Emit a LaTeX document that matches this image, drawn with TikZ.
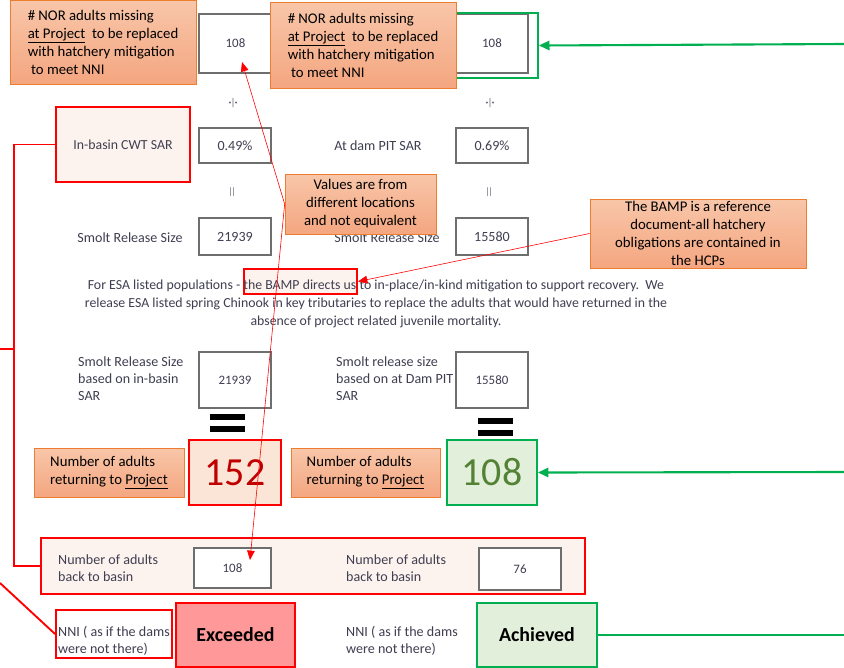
\documentclass[tikz,border=0pt]{standalone}
\usepackage{fontspec}
\setmainfont{Carlito}
\usetikzlibrary{arrows.meta}
\definecolor{orbord}{HTML}{ED7D31}
\definecolor{ortop}{HTML}{F8C6A9}
\definecolor{orbot}{HTML}{F4A680}
\definecolor{xlred}{HTML}{FF0000}
\definecolor{xlgreen}{HTML}{00B050}
\definecolor{palered}{HTML}{FDF3EE}
\definecolor{pinkfill}{HTML}{FBE5D6}
\definecolor{palegreen}{HTML}{E2EFDA}
\definecolor{dkgreen}{HTML}{548235}
\definecolor{dkred}{HTML}{C00000}
\definecolor{salmon}{HTML}{FF9999}
\definecolor{txtgray}{HTML}{3F3F52}
\definecolor{boxgray}{HTML}{6E6E6E}
\newcommand{\pxl}{0.03cm}
\newcommand{\norText}{\# NOR adults missing\\\underline{at Project}\ \ to be replaced\\with hatchery mitigation\\\ to meet NNI}
\begin{document}
\begin{tikzpicture}[x={(0.03cm,0)},y={(0,-0.03cm)},
  sz/.style 2 args={minimum width=#1*\pxl,minimum height=#2*\pxl},
  orbox/.style={draw=orbord,line width=0.6pt,top color=ortop,bottom color=orbot,inner sep=0pt,font=\fontsize{12.6}{15.4}\selectfont},
  valbox/.style={draw=boxgray,line width=1.3pt,fill=white,inner sep=0pt,text=txtgray,font=\fontsize{11}{13}\selectfont},
  redbox/.style={draw=xlred,line width=1.6pt,inner sep=0pt},
  grnbox/.style={draw=xlgreen,line width=1.6pt,inner sep=0pt},
  lbl/.style={text=txtgray,font=\fontsize{12}{14.6}\selectfont,align=left,inner sep=0pt},
  sym/.style={text=txtgray,rotate=90,inner sep=0pt,font=\large},
  callarr/.style={draw=xlred,line width=0.5pt,-{Triangle[length=8pt,width=6.5pt]}},
  grnarr/.style={draw=xlgreen,line width=1.8pt,-{Triangle[length=9pt,width=8pt]}},
  brkt/.style={draw=xlred,line width=1.6pt}]
\useasboundingbox[fill=white] (0,0) rectangle (844,667);
% top row
\node[valbox,sz={73}{59}] (val1) at (235.5,43.5) {108};
\node[valbox,sz={72}{59}] (val2) at (492,43.5) {108};
\node[grnbox,sz={83}{65}] (hit) at (496.5,45.5) {};
\node[orbox,sz={186}{86},align=left] (nor2) at (363,45) {\norText};
\node[orbox,sz={186}{84},align=left] (nor1) at (103,42) {\norText};
\coordinate (gin1) at (844,44);
\draw[grnarr] (gin1) -- (hit.east);
\foreach \kx in {233,490}{\node[sym] (div\kx) at (\kx,103) {$\div$};}
% SAR row
\node[redbox,fill=palered,sz={134}{75},lbl,align=center,font=\fontsize{11.8}{14}\selectfont] (cwt) at (123,144.5) {In-basin CWT SAR};
\node[valbox,sz={72}{35},font=\fontsize{12}{14}\selectfont] (sar1) at (235,145.5) {0.49\%};
\node[lbl] (pit) at (378,146) {At dam PIT SAR};
\node[valbox,sz={72}{35},font=\fontsize{12}{14}\selectfont] (sar2) at (492,145.5) {0.69\%};
\foreach \kx in {233,490}{\node[sym] (eq\kx) at (\kx,192) {$=$};}
% smolt release row
\node[lbl] (sml1) at (130,238) {Smolt Release Size};
\node[valbox,sz={72}{37},font=\fontsize{12}{14}\selectfont] (sm1) at (235,236.5) {21939};
\node[lbl] (sml2) at (387,238) {Smolt Release Size};
\node[valbox,sz={72}{37},font=\fontsize{12}{14}\selectfont] (sm2) at (492,236.5) {15580};
% paragraph
\node[redbox,fill=palered,sz={113}{25}] (bampbox) at (300.5,281.5) {};
\node[text=txtgray,align=center,inner sep=0pt,font=\fontsize{11.8}{15.4}\selectfont] (para) at (376,304) {For ESA listed populations - the BAMP directs us to in-place/in-kind mitigation to support recovery.\ \ We\\release ESA listed spring Chinook in key tributaries to replace the adults that would have returned in the\\absence of project related juvenile mortality.};
\node[orbox,sz={151}{60},align=center] (vals) at (360.5,204) {Values are from\\different locations\\and not equivalent};
\node[orbox,sz={216}{69},align=center] (bamp) at (698,233.5) {The BAMP is a reference\\document-all hatchery\\obligations are contained in\\the HCPs};
\draw[callarr] (bamp.west) -- (bampbox.east);
% release size row
\node[lbl,anchor=west] (szl1) at (78,379) {Smolt Release Size\\based on in-basin\\SAR};
\node[valbox,sz={72}{56}] (sz1) at (235,380) {21939};
\node[lbl,anchor=west] (szl2) at (336,379) {Smolt release size\\based on at Dam PIT\\SAR};
\node[valbox,sz={72}{56}] (sz2) at (492,380) {15580};
\foreach \kx/\ky in {210/414,210/426,478/418,478/430}{\fill (\kx,\ky) rectangle ++(35,6);}
% returning row
\node[orbox,sz={150}{49},align=left] (ret1) at (109,472.5) {Number of adults\\returning to \underline{Project}};
\node[redbox,fill=pinkfill,sz={92}{65},text=dkred,font=\fontsize{34}{34}\selectfont] (n152) at (235,472.5) {152};
\node[orbox,sz={149}{49},align=left] (ret2) at (365.5,472.5) {Number of adults\\returning to \underline{Project}};
\node[grnbox,fill=palegreen,sz={90}{65},text=dkgreen,font=\fontsize{34}{34}\selectfont] (n108) at (492,472.5) {108};
\coordinate (gin2) at (844,472);
\draw[grnarr] (gin2) -- (n108.east);
% back to basin row
\node[redbox,fill=palered,sz={544}{56}] (basin) at (313,566) {};
\node[lbl,anchor=west] (bbl1) at (58,568.5) {Number of adults\\back to basin};
\node[valbox,sz={77}{40}] (b108) at (232.5,568) {108};
\node[lbl,anchor=west] (bbl2) at (346,568.5) {Number of adults\\back to basin};
\node[valbox,sz={82}{42}] (b76) at (520,569) {76};
% NNI row
\node[redbox,sz={116}{48}] (nni1) at (114,634) {};
\node[lbl,anchor=west] (nnil1) at (58,641) {NNI ( as if the dams\\were not there)};
\node[redbox,fill=salmon,sz={119}{64},font=\bfseries\fontsize{17}{19}\selectfont] (exc) at (235.5,635) {Exceeded};
\node[lbl,anchor=west] (nnil2) at (346,641) {NNI ( as if the dams\\were not there)};
\node[grnbox,fill=palegreen,sz={120}{64},font=\bfseries\fontsize{17}{19}\selectfont] (ach) at (537,635) {Achieved};
\coordinate (gout) at (844,635);
\draw[draw=xlgreen,line width=1.8pt] (ach.east) -- (gout);
% left bracket
\draw[brkt] (cwt.west) -- ++(-41,0) |- (basin.west);
\coordinate (lstub) at (0,349);
\draw[brkt] (lstub) -- ++(15,0);
\coordinate (ldiag) at (0,583);
\draw[brkt] (ldiag) -- (nni1.west);
% callout arrows
\coordinate (tip1) at (242,62);
\coordinate (tip2) at (250,560);
\draw[callarr] (vals.west) -- (tip1);
\draw[callarr] (vals.west) -- (tip2);
\end{tikzpicture}
\end{document}
